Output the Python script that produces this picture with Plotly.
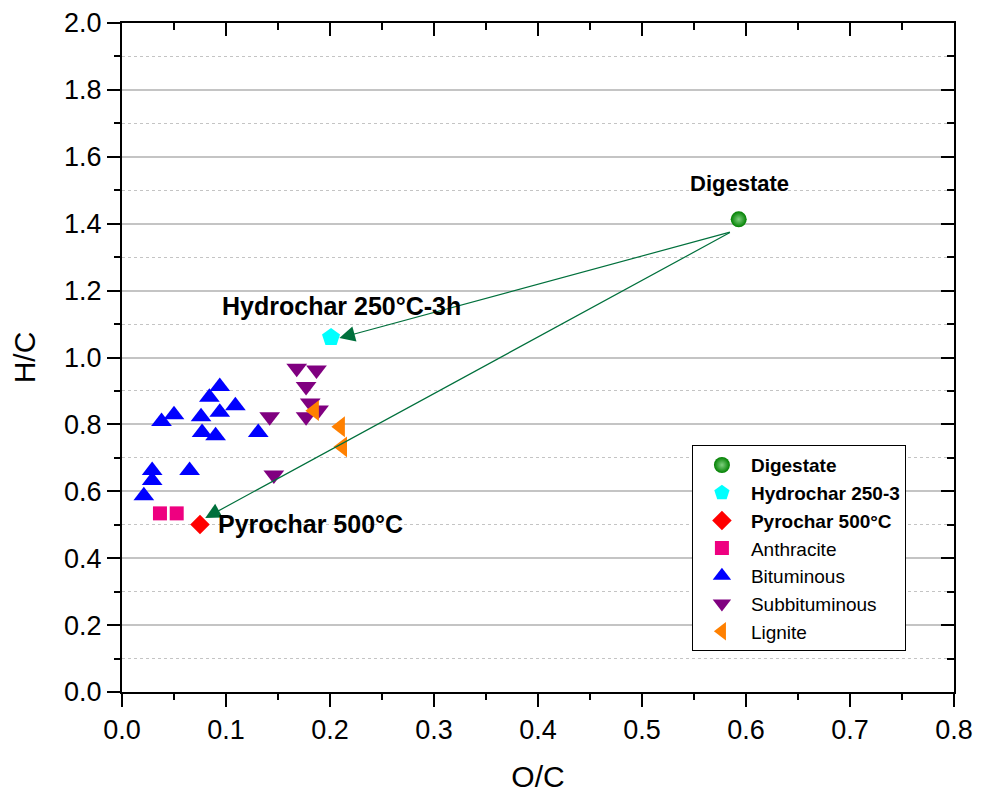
import plotly.graph_objects as go

# ---- data ----
dig_x = [0.593]
dig_y = [1.413]
hyd_x = [0.201]
hyd_y = [1.060]
pyr_x = [0.075]
pyr_y = [0.501]
anth_x = [0.0365, 0.0526]
anth_y = [0.534, 0.534]
bit_x = [0.038, 0.050, 0.094, 0.084, 0.109, 0.094, 0.076, 0.077, 0.090, 0.131, 0.065, 0.029, 0.029, 0.021]
bit_y = [0.809, 0.829, 0.913, 0.881, 0.856, 0.836, 0.823, 0.776, 0.766, 0.776, 0.662, 0.662, 0.632, 0.587]
sub_x = [0.168, 0.187, 0.177, 0.181, 0.189, 0.177, 0.142, 0.146]
sub_y = [0.968, 0.963, 0.913, 0.864, 0.843, 0.823, 0.823, 0.649]
lig_x = [0.185, 0.210, 0.212]
lig_y = [0.841, 0.793, 0.733]

arrow_tail = (0.586, 1.376)
arrow_tips = [(0.209, 1.058), (0.080, 0.520)]

FONT = "Liberation Sans, Arial, sans-serif"

fig = go.Figure()

def add(name, x, y, symbol, color, size, **kw):
    fig.add_trace(go.Scatter(x=x, y=y, mode="markers", name=name,
                             marker=dict(symbol=symbol, color=color, size=size,
                                         line=dict(width=0), **kw)))

add("<b>Digestate</b>", dig_x, dig_y, "circle", "#008000", 16,
    gradient=dict(type="radial", color="#7fd07f"))
add("<b>Hydrochar 250-3</b>", hyd_x, hyd_y, "pentagon", "#00ffff", 19)
add("<b>Pyrochar 500°C</b>", pyr_x, pyr_y, "diamond", "#ff0000", 15)
add("Anthracite", anth_x, anth_y, "square", "#ee0080", 14)
add("Bituminous", bit_x, bit_y, "triangle-up", "#0000ff", 18)
add("Subbituminous", sub_x, sub_y, "triangle-down", "#800080", 18)
add("Lignite", lig_x, lig_y, "triangle-left", "#ff8000", 18)

# dummy trace for mirrored axes
fig.add_trace(go.Scatter(x=[None], y=[None], xaxis="x2", yaxis="y2",
                         showlegend=False, hoverinfo="skip"))

for tx, ty in arrow_tips:
    fig.add_annotation(x=tx, y=ty, ax=arrow_tail[0], ay=arrow_tail[1],
                       xref="x", yref="y", axref="x", ayref="y", text="",
                       showarrow=True, arrowhead=2, arrowsize=2.6,
                       arrowwidth=1.2, arrowcolor="#00703c", standoff=0)

fig.add_annotation(x=0.5938, y=1.519, text="<b>Digestate</b>", showarrow=False,
                   font=dict(family=FONT, size=22, color="black"))
fig.add_annotation(x=0.211, y=1.154, text="<b>Hydrochar 250°C-3h</b>", showarrow=False,
                   font=dict(family=FONT, size=25, color="black"))
fig.add_annotation(x=0.0905, y=0.502, text="<b>Pyrochar 500°C</b>", showarrow=False,
                   xanchor="left", font=dict(family=FONT, size=25, color="black"))

tickfont = dict(family=FONT, size=27, color="black")
fig.update_layout(
    width=989, height=793,
    margin=dict(l=122, r=35, t=23, b=101),
    paper_bgcolor="white", plot_bgcolor="white",
    font=dict(family=FONT, color="black"),
    xaxis=dict(range=[0, 0.8], dtick=0.1, tick0=0, tickformat=".1f",
               automargin=False,
               showline=True, linewidth=2, linecolor="black",
               ticks="outside", ticklen=13, tickwidth=2, tickcolor="black",
               showgrid=False, zeroline=False, tickfont=tickfont,
               minor=dict(dtick=0.05, ticks="outside", ticklen=6, tickwidth=2,
                          tickcolor="black", showgrid=False),
               title=dict(text="O/C", font=dict(family=FONT, size=30), standoff=22)),
    yaxis=dict(range=[0, 2.0], dtick=0.2, tick0=0, tickformat=".1f",
               automargin=False,
               showline=True, linewidth=2, linecolor="black",
               ticks="outside", ticklen=13, tickwidth=2, tickcolor="black",
               showgrid=True, gridcolor="#c4c4c4", gridwidth=1.5,
               zeroline=False, tickfont=tickfont,
               minor=dict(dtick=0.1, ticks="outside", ticklen=6, tickwidth=2,
                          tickcolor="black", showgrid=True, gridcolor="#c4c4c4",
                          griddash="dot", gridwidth=1.2),
               title=dict(text="H/C", font=dict(family=FONT, size=30), standoff=20)),
    xaxis2=dict(range=[0, 0.8], overlaying="x", side="top", anchor="y2",
                automargin=False,
                dtick=0.1, tick0=0, showticklabels=False,
                showline=True, linewidth=2, linecolor="black",
                ticks="inside", ticklen=13, tickwidth=2, tickcolor="black",
                showgrid=False, zeroline=False,
                minor=dict(dtick=0.05, ticks="inside", ticklen=7, tickwidth=2,
                           tickcolor="black", showgrid=False)),
    yaxis2=dict(range=[0, 2.0], overlaying="y", side="right", anchor="x2",
                automargin=False,
                dtick=0.2, tick0=0, showticklabels=False,
                showline=True, linewidth=2, linecolor="black",
                ticks="inside", ticklen=13, tickwidth=2, tickcolor="black",
                showgrid=False, zeroline=False,
                minor=dict(dtick=0.1, ticks="inside", ticklen=7, tickwidth=2,
                           tickcolor="black", showgrid=False)),
    legend=dict(x=0.685, y=0.369, xanchor="left", yanchor="top",
                bgcolor="white", bordercolor="black", borderwidth=1,
                font=dict(family=FONT, size=19, color="black"),
                itemwidth=48, tracegroupgap=0, entrywidth=172, entrywidthmode="pixels"),
    showlegend=True,
)

fig.write_html("out.html")
